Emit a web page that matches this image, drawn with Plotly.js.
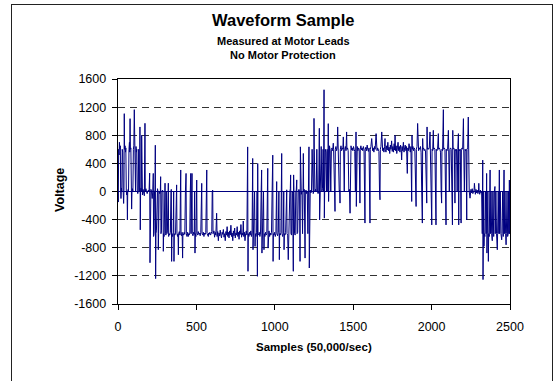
<!DOCTYPE html>
<html>
<head>
<meta charset="utf-8">
<script src="https://cdn.plot.ly/plotly-3.0.1.min.js"></script>
<style>
  html, body { margin: 0; padding: 0; background: #fff; }
  #wrap { position: relative; width: 560px; height: 381px; overflow: hidden; }
  #chart { width: 560px; height: 381px; }
  #frame { position: absolute; left: 11px; top: 4px; width: 540px; height: 420px;
           border: 1px solid #222; pointer-events: none; }
</style>
</head>
<body>
<div id="wrap"><div id="chart"></div><div id="frame"></div></div>
<script>
// [sample index, voltage] pairs, region by region
const regionA = [[0,0],[2,-150],[4,600],[7,520],[9,700],[12,600],[15,650],[17,0],[19,-100],[22,50],[24,0],[27,600],[30,560],[33,0],[36,-170],[38,0],[40,1107],[42,600],[45,650],[48,560],[50,620],[53,0],[56,-50],[58,0],[60,-404],[62,0],[65,30],[67,0],[70,600],[73,700],[75,560],[77,1036],[79,600],[82,620],[85,0],[87,-250],[89,0],[92,40],[95,0],[98,600],[101,650],[104,1164],[106,600],[109,560],[112,0],[115,640],[117,560],[120,600],[123,0],[126,-30],[129,0],[132,600],[135,0],[138,20],[140,918],[142,-545],[144,0],[147,50],[149,0],[151,800],[153,0],[156,-50],[160,30],[164,0],[168,-60],[172,970],[174,0],[178,40],[182,0],[186,-30],[190,0],[194,20],[198,0]];
const regionB = [[202,262],[204,-1013],[206,0],[210,30],[214,0],[218,-100],[222,0],[225,257],[227,-640],[230,-600],[233,0],[236,20],[238,658],[240,-1239],[242,-600],[245,-560],[248,0],[252,40],[255,0],[257,-828],[259,-600],[262,0],[266,-30],[270,0],[272,211],[274,-600],[277,-560],[280,0],[284,20],[287,0],[289,-851],[291,-600],[294,-640],[297,0],[300,118],[302,-600],[306,-620],[308,0],[310,-592],[312,-600],[315,-560],[318,0],[321,118],[323,-640],[326,-600]];
const regionC = [[330,-620],[334,-580],[338,0],[340,30],[342,-994],[344,-600],[348,-640],[352,-580],[355,0],[357,-994],[359,-600],[363,-620],[367,-590],[371,0],[374,94],[376,-600],[380,-640],[383,-600],[385,-900],[387,-600],[391,-570],[395,-620],[398,0],[400,306],[402,-600],[405,-630],[409,-580],[412,-947],[414,-600],[418,-620],[422,-580],[426,-610],[430,0],[434,257],[436,-600],[440,-640],[444,-580],[448,-640],[450,-600],[454,-620],[458,-590],[461,0],[464,257],[466,-600],[469,0],[472,257],[474,-600],[478,-630],[482,-580],[486,-610],[489,0],[491,-876],[493,-600],[497,-640],[500,0],[502,163],[504,-600],[508,-620],[512,-570],[516,-610],[520,-590],[524,-630],[528,-580],[531,0],[534,116],[536,-600],[540,-620],[544,-580],[548,-640],[552,-590],[556,-610],[560,-580],[563,0],[566,306],[568,-600],[572,-620],[576,-640],[578,-590],[582,-610],[586,-580],[590,-620],[594,-600],[598,-570],[601,0],[604,20],[606,-600]];
const regionD = [[612,-560],[616,-650],[620,-580],[624,-620],[629,-309],[632,-640],[636,-570],[640,-700],[644,-590],[648,-630],[652,-550],[656,-620],[660,-660],[664,-580],[668,-610],[672,-540],[676,-650],[680,-600],[684,-700],[688,-570],[692,-620],[696,-500],[700,-640],[704,-580],[708,-660],[712,-560],[716,-620],[720,-480],[724,-640],[728,-590],[732,-700],[736,-560],[740,-630],[744,-520],[748,-660],[752,-590],[756,-620],[760,-500],[764,-640],[768,-580],[772,-680],[776,-560],[780,-610],[784,-470],[788,-650],[792,-590],[796,-620],[799,-420],[802,-640],[806,-580],[810,-700],[814,-600],[818,-560],[822,-620]];
const regionE = [[827,634],[829,-1135],[831,-600],[835,-640],[839,-580],[843,-620],[847,-560],[851,-640],[855,-590],[857,0],[859,470],[861,-828],[863,-600],[867,-620],[871,0],[874,-781],[876,-600],[880,-640],[884,-580],[887,0],[889,-1206],[891,399],[893,-600],[897,-620],[901,-580],[905,-640],[909,-590],[913,0],[916,306],[918,-876],[920,-600],[924,-630],[928,0],[931,-828],[933,-600],[937,-640],[941,-580],[945,-620],[949,-600],[952,0],[955,329],[957,-805],[959,-600],[963,-560],[967,-640],[971,-590],[975,-620],[979,-580],[983,0],[987,517],[989,-994],[991,-600],[995,-620],[999,-580],[1003,-640],[1007,-600],[1010,0],[1012,141],[1014,-600],[1018,-630],[1022,-580],[1026,0],[1029,-970],[1031,-600],[1035,-620],[1039,-580],[1042,0],[1044,541],[1046,-600],[1050,-640],[1054,-590],[1057,0],[1059,-828],[1061,-600],[1065,-620],[1069,-580],[1073,0],[1076,24],[1078,-600],[1082,-620],[1086,-970],[1088,-600],[1092,-580],[1096,0],[1099,40],[1101,236],[1103,-600],[1107,-620],[1111,0],[1114,-30],[1118,-1135],[1120,236],[1122,0],[1126,-600],[1130,-620],[1134,0],[1137,20],[1140,165],[1142,-600],[1146,-580],[1150,0],[1154,30],[1158,0],[1161,-994],[1163,635],[1165,0],[1169,-40],[1173,0],[1177,-600],[1180,0],[1182,541],[1184,0],[1188,30],[1191,-600],[1193,-947],[1195,0],[1199,20],[1203,-30],[1207,0],[1211,-600],[1215,0],[1218,635],[1220,-1088],[1222,0],[1226,20],[1230,-20],[1234,0],[1238,600],[1241,0],[1245,-30],[1248,0]];
const regionF = [[1250,1040],[1252,600],[1256,0],[1260,30],[1264,0],[1268,600],[1272,0],[1276,-30],[1280,0],[1284,899],[1286,-404],[1288,0],[1292,600],[1296,640],[1300,0],[1304,40],[1308,600],[1311,0],[1314,1447],[1316,-378],[1318,0],[1322,600],[1326,560],[1330,0],[1334,600],[1338,0],[1341,965],[1343,-142],[1345,600],[1349,650],[1353,580],[1357,0],[1361,600],[1365,620],[1369,580],[1373,687],[1375,600],[1379,0],[1382,30],[1384,-283],[1386,600],[1390,640],[1394,580],[1398,620],[1401,918],[1403,600],[1407,580],[1411,0],[1414,20],[1416,-165],[1418,600],[1422,650],[1426,580],[1430,620],[1434,600],[1437,776],[1439,600],[1443,0],[1446,600],[1450,640],[1454,580],[1458,847],[1460,600],[1464,620],[1468,580],[1472,0],[1476,30],[1480,-309],[1482,600],[1486,650],[1490,590],[1494,620],[1498,580],[1502,640],[1506,600],[1510,570],[1514,0],[1518,847],[1520,-213],[1522,600],[1526,640],[1530,580],[1534,620],[1538,600],[1541,0],[1543,-165],[1545,600],[1549,650],[1553,590],[1557,620],[1561,580],[1565,640],[1569,600],[1573,0],[1575,-449],[1577,600],[1581,630],[1585,580],[1589,660],[1593,600],[1597,570],[1601,620],[1605,0],[1607,-449],[1609,600],[1613,640],[1618,753],[1620,600],[1624,580],[1628,620],[1632,560],[1636,640],[1640,600],[1646,823],[1648,600],[1652,580],[1656,620],[1660,600],[1664,570],[1668,0],[1671,-118],[1673,600],[1677,640],[1682,847],[1684,600],[1688,580],[1692,620],[1696,560],[1700,640],[1703,753],[1705,600]];
const regionG = [[1709,560],[1713,650],[1717,590],[1721,700],[1725,580],[1729,630],[1733,540],[1737,660],[1741,600],[1745,720],[1749,570],[1753,640],[1757,560],[1761,680],[1764,590],[1767,800],[1770,580],[1774,650],[1778,540],[1782,620],[1786,700],[1790,580],[1794,640],[1798,560],[1802,660],[1806,600],[1809,448],[1812,640],[1816,580],[1820,700],[1824,560],[1828,620],[1832,660],[1836,580],[1840,640],[1845,257],[1848,620],[1852,580],[1856,680],[1860,600],[1864,560],[1868,640]];
const regionH = [[1871,0],[1873,-142],[1875,800],[1877,600],[1881,640],[1885,580],[1889,620],[1893,600],[1897,0],[1901,-213],[1903,600],[1907,640],[1911,968],[1913,600],[1917,580],[1921,620],[1925,600],[1929,640],[1933,560],[1937,0],[1941,-449],[1943,753],[1945,600],[1949,620],[1953,580],[1957,600],[1961,580],[1965,0],[1969,-165],[1971,918],[1973,600],[1977,620],[1981,600],[1985,620],[1990,847],[1992,600],[1996,0],[2001,-475],[2003,600],[2007,580],[2011,870],[2013,600],[2017,620],[2021,600],[2024,0],[2028,-475],[2030,600],[2034,580],[2038,600],[2043,823],[2045,600],[2049,620],[2053,600],[2057,560],[2061,0],[2064,-165],[2066,600],[2070,580],[2075,1164],[2077,600],[2081,620],[2085,600],[2088,0],[2092,-475],[2094,600],[2098,580],[2102,600],[2107,870],[2109,600],[2113,0],[2117,600],[2121,620],[2125,600],[2129,0],[2133,-475],[2135,870],[2137,600],[2141,620],[2145,600],[2149,-165],[2151,600],[2155,580],[2159,600],[2163,0],[2167,600],[2171,823],[2173,-475],[2175,600],[2179,580],[2183,600],[2188,-449],[2190,600],[2194,620],[2198,600],[2203,1036],[2205,600],[2209,0],[2213,600],[2217,580],[2220,600],[2224,-404],[2226,600],[2230,620],[2234,1059],[2236,600],[2240,0],[2245,-95],[2247,0]];
const regionI = [[2251,30],[2255,-20],[2259,40],[2263,-30],[2267,0],[2271,20],[2273,116],[2275,0],[2279,-40],[2283,30],[2287,-20],[2291,20],[2295,-30],[2299,0],[2301,116],[2303,0],[2307,-40],[2311,20],[2315,-20],[2319,0]];
const regionJ = [[2323,-600],[2326,446],[2328,-1253],[2330,-600],[2332,0],[2334,-781],[2336,-600],[2340,-640],[2344,0],[2348,-600],[2351,257],[2353,-876],[2355,-600],[2359,0],[2362,-994],[2364,-600],[2368,-640],[2371,0],[2373,306],[2375,-600],[2379,0],[2383,-600],[2387,-700],[2391,0],[2394,-592],[2396,-640],[2400,0],[2404,71],[2406,-600],[2410,0],[2414,-600],[2419,-828],[2421,-600],[2425,0],[2429,-600],[2432,306],[2434,-600],[2438,0],[2442,-600],[2447,-687],[2449,-600],[2453,0],[2457,-640],[2462,306],[2464,-600],[2468,0],[2472,-600],[2475,-758],[2477,-600],[2481,0],[2485,-640],[2489,-592],[2491,0],[2494,-600],[2496,163],[2498,-600],[2500,-560]];

const xTicks = [0, 500, 1000, 1500, 2000, 2500];
const yTicks = [-1600, -1200, -800, -400, 0, 400, 800, 1200, 1600];

const titleText = 'Waveform Sample';
const subtitle1 = 'Measured at Motor Leads';
const subtitle2 = 'No Motor Protection';
const xTitle = 'Samples (50,000/sec)';
const yTitle = 'Voltage';

const allPts = [].concat(regionA, regionB, regionC, regionD, regionE, regionF, regionG, regionH, regionI, regionJ);
const xs = allPts.map(p => p[0]);
const ys = allPts.map(p => p[1]);

const FONT = 'Liberation Sans, Arial, sans-serif';

const trace = {
  x: xs, y: ys, type: 'scatter', mode: 'lines',
  line: { color: '#000080', width: 1 },
  hoverinfo: 'none'
};

const axisCommon = {
  showline: true, linecolor: '#000', linewidth: 1.3, mirror: true,
  ticks: 'outside', ticklen: 5, tickcolor: '#000', tickwidth: 1,
  tickfont: { family: FONT, size: 12.5, color: '#000' },
  tickmode: 'array'
};

const layout = {
  width: 560, height: 381,
  margin: { l: 118, r: 50, t: 79, b: 77 },
  paper_bgcolor: '#fff', plot_bgcolor: '#fff',
  showlegend: false,
  xaxis: Object.assign({}, axisCommon, {
    range: [0, 2500], tickvals: xTicks, ticktext: xTicks.map(String),
    showgrid: false, zeroline: false, ticklabelstandoff: 6
  }),
  yaxis: Object.assign({}, axisCommon, {
    range: [-1600, 1600], tickvals: yTicks, ticktext: yTicks.map(String),
    showgrid: true, gridcolor: '#333', gridwidth: 1, griddash: '7px,5px',
    zeroline: true, zerolinecolor: '#000080', zerolinewidth: 1,
    ticklabelstandoff: 3
  }),
  annotations: [
    { text: '<b>' + titleText + '</b>', xref: 'paper', yref: 'paper', x: 0.421, y: 1.262,
      xanchor: 'center', yanchor: 'middle', showarrow: false, font: { family: FONT, size: 16.5, color: '#000' } },
    { text: '<b>' + subtitle1 + '</b>', xref: 'paper', yref: 'paper', x: 0.421, y: 1.171,
      xanchor: 'center', yanchor: 'middle', showarrow: false, font: { family: FONT, size: 11, color: '#000' } },
    { text: '<b>' + subtitle2 + '</b>', xref: 'paper', yref: 'paper', x: 0.421, y: 1.107,
      xanchor: 'center', yanchor: 'middle', showarrow: false, font: { family: FONT, size: 11, color: '#000' } },
    { text: '<b>' + xTitle + '</b>', xref: 'paper', yref: 'paper', x: 0.5, y: -0.191,
      xanchor: 'center', yanchor: 'middle', showarrow: false, font: { family: FONT, size: 11.5, color: '#000' } },
    { text: '<b>' + yTitle + '</b>', xref: 'paper', yref: 'paper', x: -0.148, y: 0.507, textangle: -90,
      xanchor: 'center', yanchor: 'middle', showarrow: false, font: { family: FONT, size: 12.5, color: '#000' } }
  ]
};

Plotly.newPlot('chart', [trace], layout, { staticPlot: true, displayModeBar: false });
</script>
</body>
</html>
